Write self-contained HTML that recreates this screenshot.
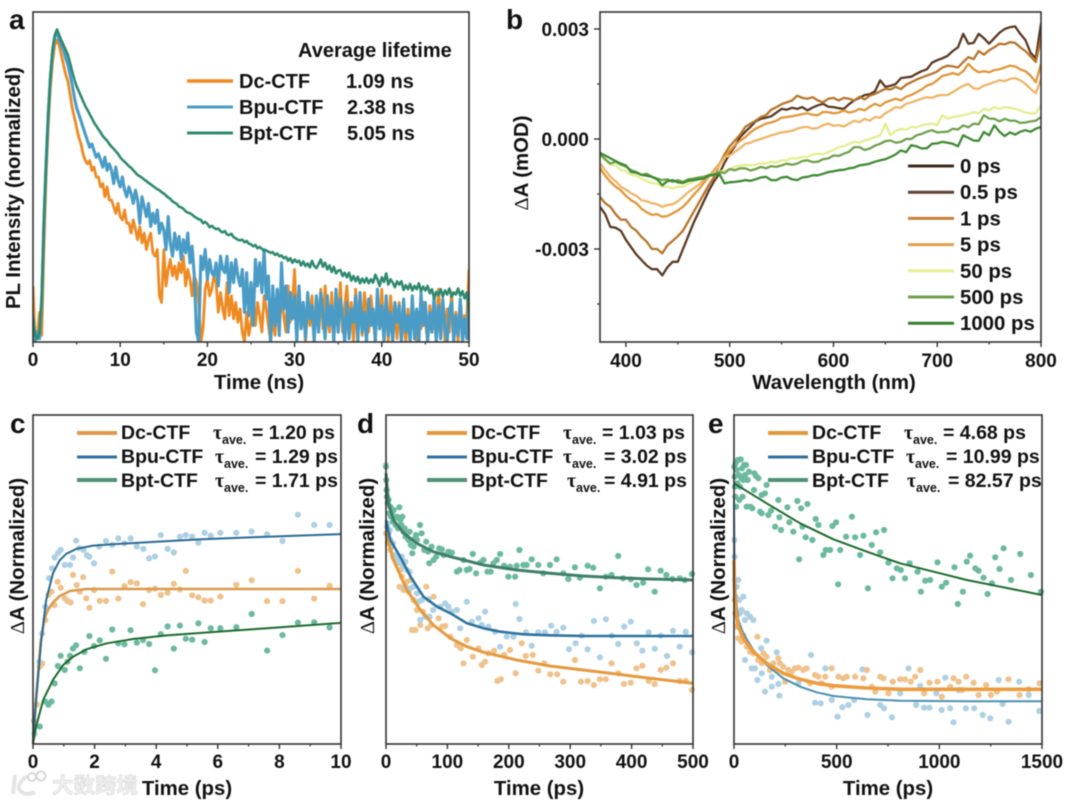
<!DOCTYPE html>
<html lang="en">
<head>
<meta charset="utf-8">
<title>PL and transient absorption figure</title>
<style>
html,body{margin:0;padding:0;background:#fff;}
#figure{display:block;width:1071px;height:805px;font-family:"Liberation Sans","Noto Sans CJK SC",sans-serif;font-weight:bold;fill:#111;filter:blur(0.45px);}
.serif{font-family:"Liberation Serif",serif;}
.sub{font-size:12.5px;}
.t20{font-size:20.4px;}
.leg{font-size:19.5px;}
.letter{font-size:28px;}
</style>
</head>
<body>
<svg id="figure" xmlns="http://www.w3.org/2000/svg" width="1071" height="805" viewBox="0 0 1071 805">
  <defs>
    <clipPath id="clip-a"><rect x="33" y="12" width="436" height="330"/></clipPath>
    <clipPath id="clip-b"><rect x="600" y="12" width="441" height="330"/></clipPath>
  </defs>
  <rect x="0" y="0" width="1071" height="805" fill="#fff"/>

  <g id="panel-a"></g>
  <g id="panel-b"></g>
  <g id="panel-c"></g>
  <g id="panel-d"></g>
  <g id="panel-e"></g>

  <!-- panel letters -->
  <text class="letter" x="9" y="29">a</text>
  <text class="letter" x="506" y="29">b</text>
  <text class="letter" x="10" y="433">c</text>
  <text class="letter" x="357" y="433">d</text>
  <text class="letter" x="708" y="433">e</text>

  <!-- axis titles -->
  <text class="t20" x="259" y="389" text-anchor="middle">Time (ns)</text>
  <text class="t20" transform="translate(20 188) rotate(-90)" text-anchor="middle">PL Intensity (normalized)</text>
  <text class="t20" x="834" y="389" text-anchor="middle">Wavelength (nm)</text>
  <text class="t20" transform="translate(528 163) rotate(-90)" text-anchor="middle"><tspan class="serif" font-weight="normal">Δ</tspan>A (mOD)</text>
  <text class="t20" x="187" y="795" text-anchor="middle">Time (ps)</text>
  <text class="t20" transform="translate(24 556) rotate(-90)" text-anchor="middle"><tspan class="serif" font-weight="normal">Δ</tspan>A (Normalized)</text>
  <text class="t20" x="539" y="795" text-anchor="middle">Time (ps)</text>
  <text class="t20" transform="translate(374 556) rotate(-90)" text-anchor="middle"><tspan class="serif" font-weight="normal">Δ</tspan>A (Normalized)</text>
  <text class="t20" x="888" y="795" text-anchor="middle">Time (ps)</text>
  <text class="t20" transform="translate(725 556) rotate(-90)" text-anchor="middle"><tspan class="serif" font-weight="normal">Δ</tspan>A (Normalized)</text>

  <!-- panel a legend -->
  <g>
    <text font-size="20" x="298" y="57">Average lifetime</text>
    <line x1="187" x2="233" y1="81" y2="81" stroke="#ee8a22" stroke-width="3.5"/>
    <text font-size="20" x="239" y="88">Dc-CTF</text>
    <text font-size="20" x="346" y="88">1.09 ns</text>
    <line x1="187" x2="233" y1="107" y2="107" stroke="#4a9cc6" stroke-width="3"/>
    <text font-size="20" x="239" y="114">Bpu-CTF</text>
    <text font-size="20" x="347" y="114">2.38 ns</text>
    <line x1="187" x2="233" y1="133" y2="133" stroke="#2f8a70" stroke-width="3"/>
    <text font-size="20" x="239" y="140">Bpt-CTF</text>
    <text font-size="20" x="347" y="140">5.05 ns</text>
  </g>

  <!-- panel b legend -->
  <g id="b-legend"></g>

  <!-- panel c legend -->
  <g>
    <line x1="77" x2="117" y1="433" y2="433" stroke="#dc9a4c" stroke-width="4"/>
    <text class="leg" x="121" y="439">Dc-CTF</text>
    <text class="serif leg" x="213" y="439">τ<tspan class="sub" dy="5" font-family="Liberation Sans">ave.</tspan></text>
    <text class="leg" x="252" y="439">= 1.20 ps</text>
    <line x1="77" x2="117" y1="457" y2="457" stroke="#2f6f9f" stroke-width="3"/>
    <text class="leg" x="121" y="463">Bpu-CTF</text>
    <text class="serif leg" x="215" y="463">τ<tspan class="sub" dy="5" font-family="Liberation Sans">ave.</tspan></text>
    <text class="leg" x="255" y="463">= 1.29 ps</text>
    <line x1="77" x2="117" y1="480" y2="480" stroke="#4f8f76" stroke-width="4"/>
    <text class="leg" x="121" y="487">Bpt-CTF</text>
    <text class="serif leg" x="215" y="487">τ<tspan class="sub" dy="5" font-family="Liberation Sans">ave.</tspan></text>
    <text class="leg" x="255" y="487">= 1.71 ps</text>
  </g>

  <!-- panel d legend -->
  <g>
    <line x1="427" x2="467" y1="433" y2="433" stroke="#e0993f" stroke-width="4"/>
    <text class="leg" x="471" y="439">Dc-CTF</text>
    <text class="serif leg" x="563" y="439">τ<tspan class="sub" dy="5" font-family="Liberation Sans">ave.</tspan></text>
    <text class="leg" x="602" y="439">= 1.03 ps</text>
    <line x1="427" x2="467" y1="457" y2="457" stroke="#2f6f9f" stroke-width="3"/>
    <text class="leg" x="471" y="463">Bpu-CTF</text>
    <text class="serif leg" x="563" y="463">τ<tspan class="sub" dy="5" font-family="Liberation Sans">ave.</tspan></text>
    <text class="leg" x="604" y="463">= 3.02 ps</text>
    <line x1="427" x2="467" y1="480" y2="480" stroke="#4f8f76" stroke-width="4"/>
    <text class="leg" x="471" y="487">Bpt-CTF</text>
    <text class="serif leg" x="567" y="487">τ<tspan class="sub" dy="5" font-family="Liberation Sans">ave.</tspan></text>
    <text class="leg" x="604" y="487">= 4.91 ps</text>
  </g>

  <!-- panel e legend -->
  <g>
    <line x1="768" x2="808" y1="433" y2="433" stroke="#e0993f" stroke-width="4"/>
    <text class="leg" x="812" y="439">Dc-CTF</text>
    <text class="serif leg" x="904" y="439">τ<tspan class="sub" dy="5" font-family="Liberation Sans">ave.</tspan></text>
    <text class="leg" x="943" y="439">= 4.68 ps</text>
    <line x1="768" x2="808" y1="457" y2="457" stroke="#2f6f9f" stroke-width="3"/>
    <text class="leg" x="812" y="463">Bpu-CTF</text>
    <text class="serif leg" x="906" y="463">τ<tspan class="sub" dy="5" font-family="Liberation Sans">ave.</tspan></text>
    <text class="leg" x="946" y="463">= 10.99 ps</text>
    <line x1="768" x2="808" y1="480" y2="480" stroke="#4f8f76" stroke-width="4"/>
    <text class="leg" x="812" y="487">Bpt-CTF</text>
    <text class="serif leg" x="907" y="487">τ<tspan class="sub" dy="5" font-family="Liberation Sans">ave.</tspan></text>
    <text class="leg" x="948" y="487">= 82.57 ps</text>
  </g>

  <!-- watermark -->
  <g>
    <path d="M15 775 L13 794 M27 776 Q17 784 19 789 Q24 797 35 792" fill="none" stroke="#e4e4e4" stroke-width="4"/>
    <circle cx="32" cy="777" r="4" fill="none" stroke="#d8d8d8" stroke-width="2"/>
    <circle cx="41" cy="776" r="4.5" fill="none" stroke="#d8d8d8" stroke-width="2"/>
    <text x="52" y="793" font-size="21.5" font-weight="bold" fill="#f0f0f0" stroke="#d2d2d2" stroke-width="0.5" style="font-family:'Noto Sans CJK SC',sans-serif">大数跨境</text>
  </g>
</svg>

<script>
/* ---------- panel a: PL decay, one sample every aStepNs, percent of axis height ---------- */
const aStepNs = 0.25;
const aDc = [
17,0,2,9,2,28,50,66,77,85,90,91.5,
90,87,84,81,79,75,71,68,65,62,60,57,
55,54,55,52,53,50,50,47,48,44,47,43,
43,41,39,42,38,37,40,36,36,33,37,34,
31,35,30,33,28,31,33,27,26,28,14,12,
28,17,22,25,20,23,19,24,21,26,17,22,
19,14,20,18,12,0,4,16,19,14,16,20,
18,9,15,10,7,18,8,14,7,12,6,10,
3,0,9,2,6,13,5,12,8,3,14,10,
5,0,8,2,12,4,14,8,3,17,6,12,
22,3,16,7,11,0,10,5,14,2,12,6,
16,4,17,8,3,15,1,10,6,18,3,11,
17,5,12,0,16,6,11,2,15,9,3,14,
7,1,11,4,16,2,10,0,14,6,9,1,
12,3,7,0,10,2,13,5,0,9,4,12,
6,0,11,3,8,0,16,5,12,0,10,3,
15,2,9,0,13,4,8,7,22];
const aBpu = [
8,0,3,1,12,36,54,69,80,88,92.5,94,
91.5,90,88.5,86,84,81,78,74,71,69,67,65,
63,61,59,60,58,56,57,55,53,56,52,54,
52,48,53,49,47,50,46,44,47,45,42,46,
43,36,44,41,38,42,35,39,36,40,33,36,
34,28,38,30,26,33,28,32,25,31,27,33,
24,29,20,3,0,26,22,28,19,25,21,20,
24,17,26,22,21,26,15,24,18,25,20,17,
22,9,21,8,18,5,25,17,24,15,28,13,
20,0,17,5,16,2,24,10,17,3,15,7,
14,0,17,4,12,1,15,7,11,0,14,3,
15,9,1,14,5,11,0,16,3,13,7,0,
12,1,10,6,14,0,15,3,9,0,13,5,
10,0,16,4,11,0,14,2,9,0,12,6,
11,0,13,3,8,0,14,1,10,0,15,5,
12,0,9,3,14,0,11,1,13,4,0,10,
12,0,8,2,13,0,7,1,14];
const aBpt = [
7,2,1,3,14,38,55,70,81,89,93,94.7,
93,91.5,90,88.5,87,84.5,82,79.5,77.5,76,74.5,73,
71.5,70.3,69,67.8,66.5,65.5,64.5,63.5,62.4,61.7,61,60,
59.2,58.5,57.8,57,56,55.2,54.6,54,53.3,52.8,52,51.3,
50.6,50.2,49.8,49.2,48.8,48.2,47.8,47.3,46.8,46.3,46,45.4,
45,44.4,43.8,43.4,42.6,42.2,41.8,41,40.8,40.4,39.6,39.2,
39,38.6,38,37.6,37.2,37,36,36.4,35.8,34.8,35.2,34.6,
34.2,34.4,33.6,33.2,33.6,32.6,32.4,32.8,31.8,31.4,31,30.8,
31,30.2,30.6,29.8,29.6,29,29.4,28.4,28.8,28.2,27.6,27.8,
27.4,27,27.2,26.4,26.8,26,26.2,25.4,25.8,24.6,25.4,24,
25,24.2,24.6,23.2,24.4,23,23.8,22.6,24.6,23,22.4,23.6,
25,22.8,24,22,23.2,21.2,22.8,20.8,21.6,21.8,20,21,
19.6,21,18.6,20,18.4,19.8,17.8,19.2,18,19.4,17.8,19,
18,20.4,19,17,19.6,18.2,20.8,17.4,19,18,16.6,18.4,
17.4,18.4,15.8,17.2,16,17.6,15.6,17,16,17.8,15.4,16.8,
15.6,17,14.8,16,13.2,15.2,14.2,16,13.8,15.6,14.4,16.2,
13.6,15,14.4,16.2,14,15.4,13.2,15,9];
const aXTicks = [0,10,20,30,40,50];
const aXMinor = [5,15,25,35,45];

/* ---------- panel b: spectra from bStartNm every bStepNm, in units of 0.001 mOD ---------- */
const bStartNm = 375;
const bStepNm = 5;
const bLabels = ['0 ps','0.5 ps','1 ps','5 ps','50 ps','500 ps','1000 ps'];
const b0ps = [
-1.85,-2.05,-2.4,-2.42,-2.5,-2.75,-2.95,-3.15,-3.3,-3.45,
-3.55,-3.55,-3.72,-3.5,-3.35,-3.35,-3.0,-2.65,-2.3,-2.0,
-1.7,-1.4,-1.15,-0.95,-0.65,-0.4,-0.2,0.05,0.2,0.33,
0.48,0.55,0.58,0.62,0.72,0.82,0.8,0.85,0.82,0.87,
0.78,0.86,0.92,0.96,0.88,0.87,0.84,0.82,0.95,1.05,
1.12,1.2,1.22,1.3,1.6,1.42,1.45,1.5,1.66,1.68,
1.7,1.78,1.85,1.9,2.08,2.15,2.2,2.27,2.4,2.5,
2.87,2.6,2.62,2.87,2.75,2.6,2.75,2.9,3.0,3.05,
3.07,2.87,2.7,2.35,2.2,3.15];
const b05ps = [
-1.58,-1.75,-1.85,-2.05,-2.2,-2.2,-2.4,-2.5,-2.67,-2.8,
-3.0,-3.0,-3.12,-2.9,-2.78,-2.65,-2.5,-2.25,-2.0,-1.75,
-1.5,-1.25,-1.03,-0.7,-0.42,-0.2,-0.04,0.12,0.33,0.42,
0.5,0.6,0.65,0.8,0.87,0.95,1.0,1.05,1.18,1.12,
1.1,1.14,1.05,1.0,1.1,1.12,1.05,1.12,1.1,1.05,
1.15,1.08,1.18,1.23,1.3,1.37,1.35,1.42,1.36,1.48,
1.55,1.62,1.68,1.73,1.78,1.84,1.95,2.0,1.98,1.95,
2.1,2.23,2.18,2.4,2.3,2.42,2.5,2.6,2.58,2.64,
2.62,2.5,2.4,2.25,2.1,2.75];
const b1ps = [
-0.8,-1.0,-1.17,-1.3,-1.4,-1.55,-1.67,-1.75,-1.9,-2.0,
-2.07,-2.05,-2.12,-2.1,-2.03,-1.95,-1.85,-1.7,-1.53,-1.38,
-1.2,-1.02,-0.85,-0.68,-0.5,-0.33,-0.17,-0.05,0.05,0.18,
0.28,0.35,0.42,0.45,0.5,0.58,0.6,0.62,0.65,0.68,
0.7,0.66,0.65,0.74,0.73,0.7,0.72,0.78,0.72,0.75,
0.82,0.78,0.88,0.96,0.9,1.0,1.05,1.1,1.05,1.15,
1.2,1.28,1.35,1.46,1.5,1.6,1.72,1.75,1.8,1.75,
1.85,2.05,1.9,1.82,1.85,1.82,1.88,1.9,1.95,2.0,
1.98,1.9,1.85,1.73,1.55,2.05];
const b5ps = [
-0.67,-0.85,-1.03,-1.15,-1.3,-1.38,-1.48,-1.55,-1.67,-1.7,
-1.75,-1.78,-1.85,-1.8,-1.78,-1.7,-1.58,-1.45,-1.35,-1.25,
-1.12,-1.02,-0.9,-0.72,-0.5,-0.45,-0.35,-0.25,-0.13,-0.1,
-0.04,0.0,0.05,0.1,0.14,0.18,0.2,0.22,0.28,0.32,
0.33,0.28,0.3,0.38,0.42,0.36,0.38,0.34,0.42,0.5,
0.46,0.55,0.5,0.6,0.58,0.7,0.78,0.87,0.85,0.96,
1.0,1.05,1.1,1.14,1.12,1.18,1.2,1.2,1.28,1.37,
1.45,1.5,1.38,1.37,1.46,1.5,1.55,1.6,1.58,1.64,
1.66,1.6,1.5,1.37,1.25,1.64];
const b50ps = [
-0.44,-0.58,-0.7,-0.72,-0.85,-0.88,-0.98,-1.0,-1.08,-1.15,
-1.2,-1.22,-1.3,-1.3,-1.35,-1.3,-1.3,-1.22,-1.17,-1.08,
-1.03,-0.98,-0.94,-0.9,-0.85,-0.82,-0.76,-0.72,-0.7,-0.72,
-0.7,-0.66,-0.67,-0.62,-0.64,-0.58,-0.58,-0.52,-0.53,-0.49,
-0.49,-0.42,-0.4,-0.42,-0.36,-0.3,-0.22,-0.2,-0.13,-0.08,
-0.1,-0.04,0,0.05,0.1,0.42,0.1,0.22,0.28,0.25,
0.33,0.32,0.37,0.4,0.42,0.38,0.65,0.55,0.6,0.62,
0.65,0.68,0.73,0.7,0.82,0.78,0.87,0.82,0.87,0.85,
0.82,0.78,0.72,0.7,0.7,0.92];
const b500ps = [
-0.4,-0.55,-0.67,-0.62,-0.7,-0.75,-0.85,-0.9,-0.98,-0.95,
-1.03,-1.08,-1.12,-1.1,-1.17,-1.12,-1.17,-1.1,-1.08,-1.05,
-1.03,-0.98,-0.96,-0.9,-0.93,-0.82,-0.85,-0.8,-0.8,-0.86,
-0.82,-0.76,-0.8,-0.74,-0.76,-0.72,-0.67,-0.7,-0.67,-0.6,
-0.58,-0.63,-0.62,-0.55,-0.53,-0.45,-0.46,-0.4,-0.35,-0.22,
-0.22,-0.3,-0.26,-0.18,-0.13,-0.06,-0.04,-0.1,-0.08,0.0,
0.0,0.1,0.14,0.2,0.24,0.18,0.19,0.2,0.28,0.26,
0.37,0.32,0.42,0.4,0.65,0.56,0.55,0.48,0.55,0.5,
0.5,0.44,0.45,0.48,0.5,0.6];
const b1000ps = [
-0.38,-0.45,-0.53,-0.6,-0.67,-0.72,-0.9,-0.92,-0.98,-1.0,
-1.03,-1.1,-1.26,-1.15,-1.12,-1.18,-1.2,-1.14,-1.12,-1.1,
-1.08,-1.0,-0.98,-0.95,-1.21,-1.18,-1.17,-1.15,-1.12,-1.14,
-1.1,-1.05,-1.03,-1.12,-1.12,-1.05,-1.03,-1.1,-1.12,-1.05,
-1.03,-0.99,-0.99,-0.95,-0.9,-0.88,-0.85,-0.84,-0.8,-0.78,
-0.72,-0.7,-0.67,-0.62,-0.58,-0.55,-0.49,-0.42,-0.31,-0.36,
-0.17,-0.2,-0.26,-0.25,-0.13,-0.12,-0.08,-0.1,-0.13,-0.2,
0.1,0.03,-0.04,-0.05,0.19,0.1,0.37,0.2,0.08,0.18,
0.12,0.2,0.24,0.2,0.28,0.33];
const bXTicks = [400,500,600,700,800];
const bXMinor = [450,550,650,750];
const bYTicks = [3,0,-3];
const bYTickLabels = ['0.003','0.000','-0.003'];
const bYMinor = [1.5,-1.5,-4.5];

/* ---------- panel c: kinetics, time in ps, amplitude in percent of axis height ---------- */
const cDcT = [0.03,0.12,0.22,0.3,0.4,0.5,0.6,0.7,0.8,0.9,1.03,1.12,1.22,1.3,1.42,1.52,1.63,1.73,1.83,1.98,2.17,2.37,2.57,2.77,2.97,3.17,3.37,3.57,3.77,3.96,4.15,4.37,4.57,4.77,4.96,5.17,5.37,5.57,5.77,6.08,6.6,7.1,7.6,8.1,8.6,9.13,9.63];
const cDcY = [7,12,23.5,24.5,37.7,45.3,46.3,42.2,49.3,47.5,44.3,43.5,43,51.4,48.3,46.3,50.7,44.3,41.4,46.8,43.5,43.5,52.4,44.2,48,49.2,48.8,42.5,46.8,47.2,45.3,46,48.7,47,52.6,45.2,44.6,43.6,43.6,44.8,48.4,49.8,43.4,43.4,52.6,44.2,48.1];
const cBpuT = [0.05,0.2,0.3,0.4,0.52,0.62,0.7,0.81,0.9,1.03,1.2,1.3,1.4,1.5,1.64,1.75,1.83,1.98,2.15,2.37,2.57,2.77,2.97,3.17,3.37,3.58,3.77,3.96,4.15,4.37,4.57,4.77,4.96,5.17,5.37,5.57,5.77,6.08,6.6,7.1,7.6,8.1,8.6,9.13,9.63];
const cBpuY = [3,25,33.6,41.7,50.4,53.4,56.7,58,59,54.4,54.4,56.7,61.8,59.5,59,57.4,56.9,54.9,60,61.7,60.5,62.5,61,62.5,60,59.3,56.4,57,63.5,59.3,58.2,63,63.5,63,61.2,64.2,63.3,64.2,64.2,64.6,63.7,61.7,69.7,66.6,66.6];
const cBptT = [0.22,0.4,0.5,0.6,0.7,0.81,0.9,1.03,1.12,1.2,1.3,1.4,1.52,1.67,1.83,1.98,2.17,2.37,2.57,2.77,2.97,3.17,3.37,3.57,3.77,3.96,4.15,4.37,4.57,4.77,4.96,5.17,5.37,5.57,5.77,6.08,6.6,7.1,7.6,8.1,8.6,9.13,9.63];
const cBptY = [5.3,12.9,11.9,12.9,18.4,23.7,26.8,22.5,25,26.8,29,30,23,28,32.8,29.8,31.5,25.9,34.8,30.6,30.3,34.6,30.8,31.6,30.4,22.4,33.4,35.7,29,36,32,31.7,36.7,31,35.2,35.2,35.5,39.5,28.4,33.1,36.9,37,35.4];
const cFitDcT = [0,0.1,0.25,0.38,0.5,0.65,0.87,1.2,1.74,10];
const cFitDcY = [0,14,31,38.5,41,43,45,46.5,47.1,47.1];
const cFitBpuT = [0,0.1,0.27,0.43,0.65,0.87,1.08,1.41,1.95,2.7,4,5.4,7.6,10];
const cFitBpuY = [0,13.4,31.6,43.8,51.9,55.9,57.8,59.3,60.3,60.8,61.5,62.2,63,63.8];
const cFitBptT = [0,0.1,0.33,0.65,0.98,1.3,1.74,2.4,3.25,4.34,5.97,7.6,10];
const cFitBptY = [0,5.3,13.4,19.5,24,26.5,28.8,30.6,31.9,33,34.1,35.2,36.8];
const cXTicks = [0,2,4,6,8,10];
const cXMinor = [1,3,5,7,9];

/* ---------- panel d: kinetics, time in ps, amplitude in per-mille of the axis range ---------- */
const dDcT = [0,3,7,11.4,17.9,23.3,26,22.2,28.7,34.1,40.6,36.8,45,42.3,47.7,50.4,55.8,60.1,65.5,67.7,73.7,77.5,85.6,91,96.4,104.5,115.4,121.9,126.2,131.6,141.4,150.6,156,161.4,166.8,176,181.5,186.9,192.3,202,211.2,221,227.5,238.9,248,257.8,267.6,278.9,288.7,307.7,317.4,328.3,338.6,348.3,358,367.3,378.1,387.4,398.7,407.9,417.6,427.9,437.7,447.4,456.7,467.5,478.3,488.1,498.4];
const dDcY = [632,602,582,562,542,522,502,472,462,487,492,457,432,342,342,402,357,397,472,347,357,442,377,352,354,322,297,287,242,312,262,287,237,247,272,280,189,194,267,282,212,302,264,267,220,242,209,209,187,252,187,189,177,194,194,242,212,180,184,227,235,189,180,222,229,242,189,189,162];
const dBpuT = [0,1.6,2.7,4.3,6,7,9.2,11.4,12.5,15.2,17.9,20.6,23.3,26,28.7,31.4,34.1,38.5,31.4,39.5,45,50.4,53,58.5,55.8,63.9,71,69.3,76.8,88.3,96.4,101.8,107.3,115.4,120.8,131.6,139.8,150.6,156,161.4,166.8,177.7,185.8,196.6,207.5,211.2,217.2,228,237.3,248,259,269,277.9,288.7,298,308.8,318.5,328.3,338.6,348.3,358.1,367.8,378.1,387.9,398.7,408.4,417.6,427.9,437.7,447.4,457.7,467.5,478.3,488.1,498.4];
const dBpuY = [837,652,662,632,642,612,592,602,567,552,562,552,542,562,532,547,522,517,472,467,472,452,427,432,372,382,382,434,402,412,422,412,397,402,347,427,367,377,357,397,352,337,292,322,322,420,375,335,295,335,335,355,337,349,284,302,325,284,369,260,374,325,300,352,367,302,280,335,286,325,264,340,292,337,275];
const dBptT = [0,0.5,1,1.6,2.7,4.3,5.4,7,8.1,9.8,11.4,12.5,14,15.7,17.9,19.5,21.7,23.3,24.9,26.5,28.7,30.3,32,34.1,36.8,38.5,40.6,42.8,45,46,48.8,50.4,55.3,58,62.3,65.5,68.8,70.4,74.2,77.5,81.8,86.7,91,93.7,101.8,107.3,115.4,119.7,126.2,131.6,136,141.4,146.8,153.3,158.7,165.2,170.6,175,180.4,185.8,192.3,199.4,202,210.2,212.9,217.2,223.7,229,237.3,248,256.2,267,277.9,288.7,296.9,307.7,315.8,328.3,337.5,348.3,358,367.3,378.1,386.2,398.7,407.9,418.7,426.9,437.7,447.4,456.7,466.4,478.3,486.5,498.4];
const dBptY = [832,792,762,742,722,732,692,712,682,692,667,702,677,657,682,647,710,672,657,682,637,647,622,632,612,637,597,572,592,614,627,612,657,632,582,607,577,542,592,552,562,587,584,567,577,574,517,522,552,522,525,570,512,544,552,517,517,542,552,570,535,502,532,502,535,582,537,537,554,537,512,537,554,512,495,530,499,535,529,467,502,507,564,497,494,477,484,524,457,520,507,495,497,492,510];
const dFitDcT = [0,12,34,56,77,105,132,159,213,267,321,375,430,500];
const dFitDcY = [632,552,462,402,357,317,292,275,252,234,222,210,197,182];
const dFitBpuT = [0,7,23,40,61,83,105,132,159,186,224,267,321,500];
const dFitBpuY = [672,612,562,502,442,412,392,362,347,337,329,326,324,324];
const dFitBptT = [0,4,12,29,50,77,105,159,213,267,321,375,430,500];
const dFitBptY = [812,722,672,632,602,577,562,537,522,512,504,499,495,492];
const dXTicks = [0,100,200,300,400,500];
const dXMinor = [50,150,250,350,450];

/* ---------- panel e: kinetics, time in ps, amplitude in per-mille of the axis range ---------- */
const eDcT = [3,6.5,10,21,37,45,62,78,94,114,118,135,143,159,175,192,216,224,240,249,265,281,297,314,338,354,370,395,411,427,444,476,476,509,533,549,590,630,647,671,688,712,728,752,773,809,833,861,882,907,926,952,991,1012,1053,1069,1094,1110,1131,1167,1191,1228,1251,1281,1337,1391,1435,1489];
const eDcY = [432,392,352,317,307,327,292,277,272,322,252,242,272,262,222,242,257,242,232,187,222,217,227,229,222,227,182,207,202,182,202,227,172,202,197,202,202,197,222,172,157,202,197,152,187,194,194,187,202,222,152,184,187,142,172,197,187,162,202,184,147,177,147,157,194,147,164,182];
const eBpuT = [1.6,3,5,8,13,21,26,29,37,45.5,53.6,62,78,94,53.6,86,102,114,135,151,184,159,132,184,216,208,221,249,314,375,395,422,445,476,504,528,557,585,626,650,712,731,769,809,850,887,907,926,952,985,1011,1029,1053,1069,1094,1129,1170,1211,1248,1289,1308,1337,1389,1435,1487];
const eBpuY = [612,562,492,442,472,492,432,392,402,442,372,392,382,372,252,227,227,192,212,157,172,310,287,202,180,275,145,187,182,267,124,122,227,132,82,110,117,132,224,87,117,107,80,152,227,117,174,109,109,152,102,199,107,65,162,107,107,87,77,192,120,67,187,147,99];
const eBptT = [1.6,3,5,6.5,8,10,13,16,19.5,23,26,29,32.5,36,39,42,45.5,49,53.6,58.5,62,66.6,73,81,89,99,107,118.6,97.5,127,135,135,151,159,167,180,200,216,221,229,260,270,289,309,317,327,333,349,357.5,382,398,411,435,447,468,479,497,507,517,546,574,590,614,630,652,671,692,712,731,752,772,793,812.5,833,855,894,910,931,955,991,1012,1033,1074,1090,1115,1134,1150,1175,1191,1215,1235,1256,1272,1293,1313,1349,1394,1446,1495];
const eBptY = [832,802,772,742,842,712,822,782,852,807,732,772,854,797,827,742,792,837,807,837,712,792,817,712,707,812,804,797,762,697,692,747,752,777,687,700,652,732,680,642,710,665,637,729,554,707,652,620,720,612,675,657,567,582,582,654,665,479,582,622,682,620,567,625,467,597,635,575,642,544,497,527,522,497,542,517,457,490,492,545,472,484,530,420,457,547,565,527,520,499,450,482,560,525,587,492,570,507,457];
const eFitDcT = [0,3,10,21,45,94,159,240,322,403,484,647,809,1500];
const eFitDcY = [552,452,392,352,317,277,242,212,194,182,175,168,164,164];
const eFitBpuT = [0,3,10,21,45,94,159,240,322,403,484,647,809,1134,1500];
const eFitBpuY = [732,512,432,372,332,282,237,197,172,155,144,134,130,128,128];
const eFitBptT = [0,159,322,484,647,809,972,1134,1297,1500];
const eFitBptY = [782,722,662,614,577,542,517,492,472,447];
const eXTicks = [0,500,1000,1500];
const eXMinor = [250,750,1250];

/* ---------- drawing helpers ---------- */
const NS = 'http://www.w3.org/2000/svg';
function el(tag, attrs, parent) {
  const n = document.createElementNS(NS, tag);
  for (const k in attrs) n.setAttribute(k, attrs[k]);
  parent.appendChild(n);
  return n;
}
function scale(d0, d1, r0, r1) {
  return function (v) { return r0 + (v - d0) * (r1 - r0) / (d1 - d0); };
}
function drawLine(parent, xs, ys, sx, sy, color, width, name, clip) {
  const pts = [];
  for (let i = 0; i < ys.length; i++) pts.push(sx(xs(i)).toFixed(1) + ',' + sy(ys[i]).toFixed(1));
  const line = el('polyline', {points: pts.join(' '), fill: 'none', stroke: color, 'stroke-width': width, 'stroke-linejoin': 'round'}, parent);
  if (clip) line.setAttribute('clip-path', clip);
  
  
  return line;
}
function drawDots(parent, ts, ys, sx, sy, color, name) {
  for (let i = 0; i < ys.length; i++) {
    const dot = el('circle', {cx: sx(ts[i]).toFixed(1), cy: sy(ys[i]).toFixed(1), r: 3.1, fill: color}, parent);
    
    
  }
}
function drawFrame(parent, x0, x1, y0, y1, name) {
  const frame = el('rect', {x: x0, y: y0, width: x1 - x0, height: y1 - y0, fill: 'none', stroke: '#333', 'stroke-width': 1.6}, parent);
  
  
}
function drawXTicks(parent, ticks, minors, sx, yBottom, labelY, prefix) {
  ticks.forEach(function (v) {
    const tick = el('line', {x1: sx(v), x2: sx(v), y1: yBottom, y2: yBottom + 5, stroke: '#333', 'stroke-width': 1.4}, parent);
    
    
    const label = el('text', {x: sx(v), y: labelY, 'text-anchor': 'middle', 'font-size': 19}, parent);
    label.textContent = String(v);
    
    
  });
  minors.forEach(function (v) {
    const minor = el('line', {x1: sx(v), x2: sx(v), y1: yBottom, y2: yBottom + 2.5, stroke: '#333', 'stroke-width': 1.2}, parent);
    
    
  });
}
function indexX(start, step) { return function (i) { return start + i * step; }; }

/* ---------- panel a ---------- */
(function () {
  const g = document.getElementById('panel-a');
  const sx = scale(0, 50, 33, 469);
  const sy = scale(0, 100, 342, 12);
  const xs = indexX(0, aStepNs);
  drawLine(g, xs, aDc, sx, sy, '#ee8a22', 2.8, 'a-line-dc-ctf', 'url(#clip-a)');
  drawLine(g, xs, aBpu, sx, sy, '#4a9cc6', 3.1, 'a-line-bpu-ctf', 'url(#clip-a)');
  drawLine(g, xs, aBpt, sx, sy, '#2f8a70', 2.6, 'a-line-bpt-ctf', 'url(#clip-a)');
  drawFrame(g, 33, 469, 12, 342, 'a-plot-frame');
  drawXTicks(g, aXTicks, aXMinor, sx, 342, 366, 'a');
})();

/* ---------- panel b ---------- */
(function () {
  const g = document.getElementById('panel-b');
  const sx = scale(375, 800, 600, 1041);
  const sy = scale(3, -3, 29, 249);
  const xs = indexX(bStartNm, bStepNm);
  const traces = [b0ps, b05ps, b1ps, b5ps, b50ps, b500ps, b1000ps];
  const traceColors = ['#5a3a24', '#b8752c', '#e0973a', '#efb568', '#e4ee90', '#6fa04e', '#3f8a33'];
  const legendColors = ['#3f2a1c', '#5d4030', '#c8803a', '#dfa050', '#e5ee90', '#6da04c', '#3a8030'];
  for (let i = 0; i < traces.length; i++) {
    drawLine(g, xs, traces[i], sx, sy, traceColors[i], 2.3, 'b-line-' + bLabels[i].replace(/[ .]/g, '-'), 'url(#clip-b)');
  }
  drawFrame(g, 600, 1041, 12, 342, 'b-plot-frame');
  drawXTicks(g, bXTicks, bXMinor, sx, 342, 367, 'b');
  bYTicks.forEach(function (v, i) {
    const tick = el('line', {x1: 594, x2: 600, y1: sy(v), y2: sy(v), stroke: '#333', 'stroke-width': 1.4}, g);
    
    
    const label = el('text', {x: 589, y: sy(v) + 7, 'text-anchor': 'end', 'font-size': 19}, g);
    label.textContent = bYTickLabels[i];
    
    
  });
  bYMinor.forEach(function (v) {
    const minor = el('line', {x1: 597, x2: 600, y1: sy(v), y2: sy(v), stroke: '#333', 'stroke-width': 1.2}, g);
    
    
  });
  const lg = document.getElementById('b-legend');
  bLabels.forEach(function (lab, i) {
    const y = 166 + i * 26.2;
    const swatch = el('line', {x1: 908, x2: 954, y1: y, y2: y, stroke: legendColors[i], 'stroke-width': 3}, lg);
    
    
    const txt = el('text', {x: 960, y: y + 7, 'font-size': 20.4}, lg);
    txt.textContent = lab;
    
    
  });
})();

/* ---------- panel c ---------- */
(function () {
  const g = document.getElementById('panel-c');
  const sx = scale(0, 10, 33, 341);
  const sy = scale(0, 100, 744, 415);
  drawDots(g, cDcT, cDcY, sx, sy, '#efc28c', 'c-point-dc-ctf');
  drawDots(g, cBpuT, cBpuY, sx, sy, '#aed0e3', 'c-point-bpu-ctf');
  drawDots(g, cBptT, cBptY, sx, sy, '#6cb9a0', 'c-point-bpt-ctf');
  drawLine(g, function (i) { return cFitDcT[i]; }, cFitDcY, sx, sy, '#d99a4c', 2.6, 'c-fit-dc-ctf');
  drawLine(g, function (i) { return cFitBpuT[i]; }, cFitBpuY, sx, sy, '#2b6a95', 2, 'c-fit-bpu-ctf');
  drawLine(g, function (i) { return cFitBptT[i]; }, cFitBptY, sx, sy, '#1d6b2c', 2, 'c-fit-bpt-ctf');
  drawFrame(g, 33, 341, 415, 744, 'c-plot-frame');
  drawXTicks(g, cXTicks, cXMinor, sx, 744, 768, 'c');
})();

/* ---------- panel d ---------- */
(function () {
  const g = document.getElementById('panel-d');
  const sx = scale(0, 500, 386, 693);
  const sy = scale(0, 987, 744, 415);
  drawDots(g, dDcT, dDcY, sx, sy, '#efc28c', 'd-point-dc-ctf');
  drawDots(g, dBpuT, dBpuY, sx, sy, '#aed0e3', 'd-point-bpu-ctf');
  drawDots(g, dBptT, dBptY, sx, sy, '#6cb9a0', 'd-point-bpt-ctf');
  drawLine(g, function (i) { return dFitDcT[i]; }, dFitDcY, sx, sy, '#e59a3f', 3, 'd-fit-dc-ctf');
  drawLine(g, function (i) { return dFitBpuT[i]; }, dFitBpuY, sx, sy, '#2d739f', 2.6, 'd-fit-bpu-ctf');
  drawLine(g, function (i) { return dFitBptT[i]; }, dFitBptY, sx, sy, '#3f7f68', 3, 'd-fit-bpt-ctf');
  drawFrame(g, 386, 693, 415, 744, 'd-plot-frame');
  drawXTicks(g, dXTicks, dXMinor, sx, 744, 768, 'd');
})();

/* ---------- panel e ---------- */
(function () {
  const g = document.getElementById('panel-e');
  const sx = scale(0, 1500, 734, 1042);
  const sy = scale(0, 987, 744, 415);
  drawDots(g, eBpuT, eBpuY, sx, sy, '#aed0e3', 'e-point-bpu-ctf');
  drawDots(g, eDcT, eDcY, sx, sy, '#efc28c', 'e-point-dc-ctf');
  drawDots(g, eBptT, eBptY, sx, sy, '#6cb9a0', 'e-point-bpt-ctf');
  drawLine(g, function (i) { return eFitBpuT[i]; }, eFitBpuY, sx, sy, '#4d8fb0', 2, 'e-fit-bpu-ctf');
  drawLine(g, function (i) { return eFitDcT[i]; }, eFitDcY, sx, sy, '#ec9c3f', 3.6, 'e-fit-dc-ctf');
  drawLine(g, function (i) { return eFitBptT[i]; }, eFitBptY, sx, sy, '#1c6b2a', 2, 'e-fit-bpt-ctf');
  drawFrame(g, 734, 1042, 415, 744, 'e-plot-frame');
  drawXTicks(g, eXTicks, eXMinor, sx, 744, 768, 'e');
})();
</script>
</body>
</html>
